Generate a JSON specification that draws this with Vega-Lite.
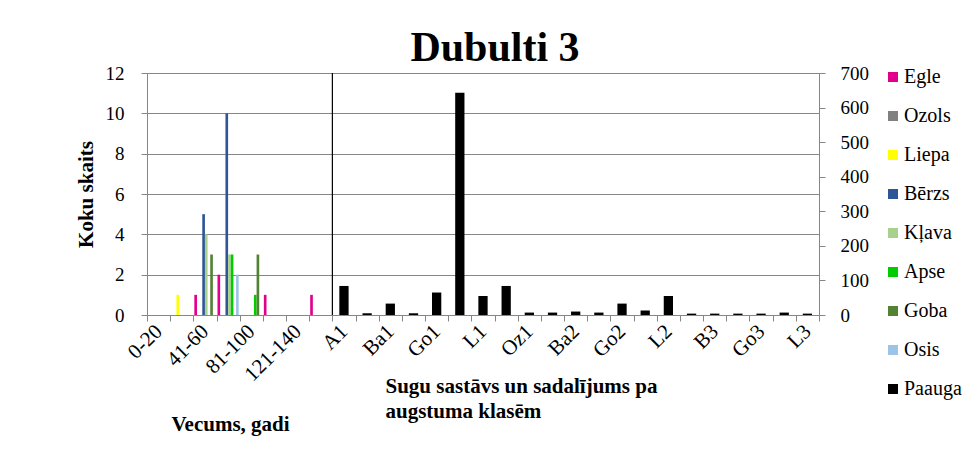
{
  "$schema": "https://vega.github.io/schema/vega-lite/v6.json",
  "autosize": "none",
  "width": 672,
  "height": 242,
  "padding": {"left": 147, "top": 73, "right": 160, "bottom": 139},
  "background": "white",
  "config": {
    "font": "Liberation Serif",
    "view": {"stroke": null},
    "legend": {"labelFont": "Liberation Serif", "titleFont": "Liberation Serif", "labelColor": "black"},
    "axis": {"labelFont": "Liberation Serif", "titleFont": "Liberation Serif", "labelColor": "black", "titleColor": "black", "domainColor": "#868686", "tickColor": "#868686", "gridColor": "#868686", "gridOpacity": 1}
  },
  "title": {"text": "Dubulti 3", "font": "Liberation Serif", "fontSize": 42, "fontWeight": "bold", "color": "black", "anchor": "middle", "dx": 12, "baseline": "alphabetic", "offset": 11, "dy": 50},
  "datasets": {
    "age": [
      {"cat": "21-40", "series": "Liepa", "value": 1},
      {"cat": "41-60", "series": "Egle", "value": 1},
      {"cat": "41-60", "series": "Bērzs", "value": 5},
      {"cat": "41-60", "series": "Kļava", "value": 4},
      {"cat": "41-60", "series": "Goba", "value": 3},
      {"cat": "61-80", "series": "Egle", "value": 2},
      {"cat": "61-80", "series": "Bērzs", "value": 10},
      {"cat": "61-80", "series": "Kļava", "value": 3},
      {"cat": "61-80", "series": "Apse", "value": 3},
      {"cat": "61-80", "series": "Osis", "value": 2},
      {"cat": "81-100", "series": "Apse", "value": 1},
      {"cat": "81-100", "series": "Goba", "value": 3},
      {"cat": "101-120", "series": "Egle", "value": 1},
      {"cat": "141-160", "series": "Egle", "value": 1}
    ],
    "paauga": [
      {"cat": "A1", "series": "Paauga", "value": 84},
      {"cat": "B1", "series": "Paauga", "value": 5},
      {"cat": "Ba1", "series": "Paauga", "value": 33},
      {"cat": "E1", "series": "Paauga", "value": 5},
      {"cat": "Go1", "series": "Paauga", "value": 65},
      {"cat": "K1", "series": "Paauga", "value": 643},
      {"cat": "L1", "series": "Paauga", "value": 55},
      {"cat": "O1", "series": "Paauga", "value": 84},
      {"cat": "Oz1", "series": "Paauga", "value": 7},
      {"cat": "B2", "series": "Paauga", "value": 7},
      {"cat": "Ba2", "series": "Paauga", "value": 10},
      {"cat": "E2", "series": "Paauga", "value": 7},
      {"cat": "Go2", "series": "Paauga", "value": 33},
      {"cat": "K2", "series": "Paauga", "value": 13},
      {"cat": "L2", "series": "Paauga", "value": 55},
      {"cat": "O2", "series": "Paauga", "value": 4},
      {"cat": "B3", "series": "Paauga", "value": 4},
      {"cat": "E3", "series": "Paauga", "value": 4},
      {"cat": "Go3", "series": "Paauga", "value": 4},
      {"cat": "K3", "series": "Paauga", "value": 7},
      {"cat": "L3", "series": "Paauga", "value": 4}
    ],
    "divider": [{"cat": "A1"}]
  },
  "layer": [
    {
      "data": {"name": "age"},
      "mark": {"type": "bar"},
      "encoding": {
        "x": {
          "field": "cat", "type": "nominal",
          "scale": {"domain": ["0-20","21-40","41-60","61-80","81-100","101-120","121-140","141-160","A1","B1","Ba1","E1","Go1","K1","L1","O1","Oz1","B2","Ba2","E2","Go2","K2","L2","O2","B3","E3","Go3","K3","L3"], "paddingInner": 0, "paddingOuter": 0},
          "axis": {
            "orient": "bottom",
            "title": "Vecums, gadi", "titleFontSize": 21, "titleFontWeight": "bold", "titleX": 83, "titleY": 115, "titleAlign": "center", "titleBaseline": "alphabetic",
            "labelAngle": -45, "labelAlign": "right", "labelBaseline": "middle", "labelFontSize": 21, "labelPadding": 7,
            "tickBand": "extent", "tickSize": 6, "labelOverlap": false,
            "labelExpr": "indexof(['0-20','41-60','81-100','121-140','A1','Ba1','Go1','L1','Oz1','Ba2','Go2','L2','B3','Go3','L3'], datum.value) >= 0 ? datum.label : ''"
          }
        },
        "xOffset": {"field": "series", "type": "nominal", "scale": {"domain": ["Egle","Ozols","Liepa","Bērzs","Kļava","Apse","Goba","Osis"], "paddingInner": 0, "paddingOuter": 0.375}},
        "y": {
          "field": "value", "type": "quantitative",
          "scale": {"domain": [0, 12]},
          "axis": {"title": "Koku skaits", "titleFontSize": 21, "titleFontWeight": "bold", "titleX": -61, "titleY": 121, "titleAlign": "center", "titleBaseline": "middle", "values": [0,2,4,6,8,10,12], "labelFontSize": 19, "labelPadding": 17, "tickSize": 6, "grid": true}
        },
        "color": {
          "field": "series", "type": "nominal",
          "scale": {"domain": ["Egle","Ozols","Liepa","Bērzs","Kļava","Apse","Goba","Osis","Paauga"], "range": ["#E0008C","#808080","#FFFF00","#2F5597","#A9D18E","#00CC00","#548235","#9DC3E6","#000000"]},
          "legend": {"title": null, "orient": "none", "legendX": 736, "legendY": -6, "symbolType": "square", "symbolSize": 100, "symbolStrokeWidth": 0, "labelFontSize": 20, "labelFont": "Liberation Serif", "labelColor": "black", "rowPadding": 19, "labelOffset": 1}
        }
      }
    },
    {
      "data": {"name": "paauga"},
      "mark": {"type": "bar", "width": {"band": 0.4}},
      "encoding": {
        "x": {
          "field": "cat", "type": "nominal",
          "scale": {"domain": ["0-20","21-40","41-60","61-80","81-100","101-120","121-140","141-160","A1","B1","Ba1","E1","Go1","K1","L1","O1","Oz1","B2","Ba2","E2","Go2","K2","L2","O2","B3","E3","Go3","K3","L3"], "paddingInner": 0, "paddingOuter": 0},
          "axis": {"orient": "bottom", "title": ["Sugu sastāvs un sadalījums  pa", "augstuma klasēm"], "titleFontSize": 21, "titleFontWeight": "bold", "titleX": 238, "titleY": 77, "titleAlign": "left", "titleBaseline": "alphabetic", "titleLineHeight": 25, "labels": false, "ticks": false, "domain": false, "grid": false}
        },
        "y": {
          "field": "value", "type": "quantitative",
          "scale": {"domain": [0, 700]},
          "axis": {"orient": "right", "title": null, "values": [0,100,200,300,400,500,600,700], "labelFontSize": 19, "labelPadding": 15, "tickSize": 6, "grid": false}
        },
        "color": {"field": "series", "type": "nominal"}
      }
    },
    {
      "data": {"name": "divider"},
      "mark": {"type": "rule", "color": "black", "strokeWidth": 1.2},
      "encoding": {
        "x": {"field": "cat", "type": "nominal", "bandPosition": 0, "axis": null}
      }
    }
  ],
  "resolve": {"scale": {"y": "independent"}, "axis": {"y": "independent", "x": "independent"}}
}
